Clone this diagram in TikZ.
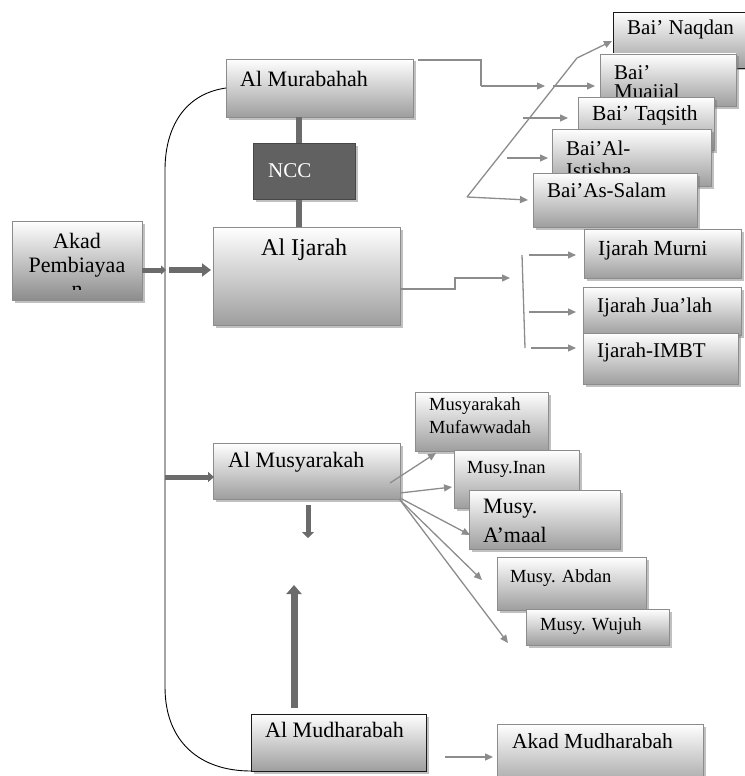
\documentclass[tikz,border=0pt]{standalone}
\usepackage{fontspec}
\setmainfont{Liberation Serif}
\usetikzlibrary{arrows.meta,shadows}
\begin{document}
\begin{tikzpicture}[x=1pt,y=-1pt,
  bx/.style={draw=black!45, line width=0.8pt, shading=axis, top color=white, middle color=black!12, bottom color=black!38,
    drop shadow={shadow xshift=2.5pt,shadow yshift=-2.5pt,fill=black!55,opacity=0.45},
    anchor=north west, inner sep=0pt, outer sep=0pt},
  bxk/.style={bx, draw=black!90},
  tx/.style={anchor=base west, inner sep=0pt, text=black, font=\fontsize{#1}{#1}\selectfont},
  tx/.default=22,
  ml/.style={anchor=north west, align=left, inner sep=0pt, text=black},
  ln/.style={draw=black!45, line width=1.3pt},
  con/.style={ln, -{Triangle[length=8pt,width=7pt]}},
  thk/.style={draw=black!58, line width=5pt},
  thka/.style={thk, -{Triangle[length=9pt,width=13pt]}},
]
\useasboundingbox (0,0) rectangle (744,776);

% main bracket curve
\node[bx, minimum width=187pt, minimum height=58pt] (mur) at (226,59) {};
\node[bxk, minimum width=175pt, minimum height=57pt] (mudh) at (251,714) {};
\draw[black, line width=0.9pt] (mur.west) .. controls (184,94) and (165,128) .. (165,170) -- (165,687)
  .. controls (165,742) and (200,771) .. (mudh.south west);
\node[tx] (murT) at (240,86) {Al Murabahah};
\node[tx] (mudhT) at (265,737) {Al Mudharabah};

% NCC and Ijarah
\coordinate (n1) at (299,117); \coordinate (n2) at (299,143);
\coordinate (n3) at (299,199); \coordinate (n4) at (299,227);
\draw[thk, line width=6pt] (n1) -- (n2);
\draw[thk, line width=6pt] (n3) -- (n4);
\node[fill=black!62, draw=black!72, line width=0.8pt, anchor=north west, inner sep=0pt,
  minimum width=102pt, minimum height=56pt,
  drop shadow={shadow xshift=2.5pt,shadow yshift=-2.5pt,fill=black!55,opacity=0.45}] (ncc) at (253,143) {};
\node[tx=21, text=white] (nccT) at (268,177) {NCC};
\node[bx, minimum width=187pt, minimum height=98pt] (ija) at (213,227) {};
\node[tx=24] (ijaT) at (261,255) {Al Ijarah};

% Akad Pembiayaan
\node[bx, bottom color=black!45, minimum width=130pt, minimum height=79pt] (akad) at (12,221) {};
\begin{scope}
\clip (12,221) rectangle (142,289);
\node[anchor=north, align=center, inner sep=0pt, text=black, font=\fontsize{22}{24}\selectfont] (akadT) at (77,233) {Akad\\Pembiayaa\\n};
\end{scope}
\coordinate (a1) at (142,270); \coordinate (a2) at (166,270);
\coordinate (a3) at (169,270); \coordinate (a4) at (211,270);
\draw[thk, -{Triangle[length=5pt,width=9pt]}] (a1) -- (a2);
\draw[thka, line width=6pt] (a3) -- (a4);

% Bai' boxes
\node[bxk, minimum width=140pt, minimum height=56pt] (naq) at (613,12) {};
\node[tx=21] (naqT) at (627,35) {Bai’ Naqdan};
\node[bx, minimum width=136pt, minimum height=52pt] (mua) at (600,54) {};
\node[ml, font=\fontsize{21}{19.5}\selectfont] (muaT) at (614,65) {Bai’\\Muajjal};
\node[bx, minimum width=136pt, minimum height=53pt] (taq) at (578,97) {};
\node[tx=21.5] (taqT) at (592,120) {Bai’ Taqsith};
\node[bx, minimum width=159pt, minimum height=57pt] (ist) at (552,129) {};
\node[ml, font=\fontsize{21}{22}\selectfont] (istT) at (566,141) {Bai’Al-\\Istishna};
\node[bx, minimum width=164pt, minimum height=54pt] (sal) at (533,173) {};
\node[tx=21] (salT) at (547,197) {Bai’As-Salam};

% Murabahah connectors
\coordinate (mA) at (418,60); \coordinate (mB) at (481,60); \coordinate (mC) at (481,86);
\coordinate (mD) at (545,86); \coordinate (mE) at (553,86); \coordinate (mF) at (595,86);
\draw[ln] (mA) -- (mB) -- (mC);
\draw[con] (mC) -- (mD);
\draw[con] (mE) -- (mF);
\coordinate (dA) at (467,197); \coordinate (dB) at (577,58); \coordinate (dC) at (612,41);
\coordinate (dD) at (528,200);
\draw[con] (dA) -- (dB) -- (dC);
\draw[con] (dA) -- (dD);
\coordinate (tA) at (523,118); \coordinate (tB) at (568,118);
\draw[con] (tA) -- (tB);
\coordinate (iA) at (507,158); \coordinate (iB) at (548,158);
\draw[con] (iA) -- (iB);

% Ijarah boxes
\node[bx, minimum width=157pt, minimum height=49pt] (mrn) at (584,229) {};
\node[tx=21.5] (mrnT) at (598,255) {Ijarah Murni};
\node[bx, minimum width=158pt, minimum height=48pt] (jua) at (583,287) {};
\node[tx=21] (juaT) at (597,312) {Ijarah Jua’lah};
\node[bx, minimum width=155pt, minimum height=51pt] (imbt) at (583,333) {};
\node[tx=21] (imbtT) at (597,357) {Ijarah-IMBT};

\coordinate (jA) at (400,289); \coordinate (jB) at (455,289); \coordinate (jC) at (455,278);
\coordinate (jD) at (510,278);
\draw[con] (jA) -- (jB) -- (jC) -- (jD);
\coordinate (vA) at (522,255); \coordinate (vB) at (525,348);
\draw[ln] (vA) -- (vB);
\coordinate (k1) at (529,255); \coordinate (k2) at (576,255);
\coordinate (k3) at (529,312); \coordinate (k4) at (576,312);
\coordinate (k5) at (531,348); \coordinate (k6) at (576,348);
\draw[con] (k1) -- (k2);
\draw[con] (k3) -- (k4);
\draw[con] (k5) -- (k6);

% Musyarakah
\node[bx, minimum width=187pt, minimum height=56pt] (musy) at (213,443) {};
\node[tx] (musyT) at (228,467) {Al Musyarakah};
\coordinate (s1) at (165,477); \coordinate (s2) at (214,477);
\draw[thk, -{Triangle[length=6pt,width=10pt]}] (s1) -- (s2);
\coordinate (s3) at (308,505); \coordinate (s4) at (308,538);
\draw[thk, -{Triangle[length=6pt,width=12pt]}] (s3) -- (s4);

\node[bx, minimum width=133pt, minimum height=59pt] (mufa) at (415,392) {};
\node[ml, font=\fontsize{18.5}{23}\selectfont] (mufaT) at (429,397) {Musyarakah\\Mufawwadah};
\node[bx, minimum width=125pt, minimum height=58pt] (inan) at (454,450) {};
\node[tx=18.5] (inanT) at (467,473) {Musy.Inan};
\node[bx, minimum width=151pt, minimum height=59pt] (amaal) at (469,490) {};
\node[ml, font=\fontsize{22}{29}\selectfont] (amaalT) at (483,498.5) {Musy.\\A’maal};
\node[bx, minimum width=149pt, minimum height=53pt] (abdan) at (497,557) {};
\node[tx=18.5] (abdanT) at (510,582) {Musy. Abdan};
\node[bx, minimum width=143pt, minimum height=36pt] (wujuh) at (526,609) {};
\node[tx=18.5] (wujuhT) at (540,630) {Musy. Wujuh};

\coordinate (r1) at (390,483); \coordinate (r1e) at (436,453);
\coordinate (r2) at (400,493); \coordinate (r2e) at (452,487);
\coordinate (r3) at (400,498); \coordinate (r3e) at (470,535);
\coordinate (r4) at (400,500); \coordinate (r4e) at (482,580);
\coordinate (r5e) at (508,643);
\draw[con] (r1) -- (r1e);
\draw[con] (r2) -- (r2e);
\draw[con] (r3) -- (r3e);
\draw[con] (r4) -- (r4e);
\draw[con] (r4) -- (r5e);

% Mudharabah
\coordinate (u1) at (294,708); \coordinate (u2) at (294,585);
\draw[thk, line width=7pt, -{Triangle[length=9pt,width=15pt]}] (u1) -- (u2);
\node[bx, minimum width=206pt, minimum height=66pt] (akmu) at (497,724) {};
\node[tx=21.5] (akmuT) at (512,748) {Akad Mudharabah};
\coordinate (w1) at (445,757); \coordinate (w2) at (493,757);
\draw[con] (w1) -- (w2);
\end{tikzpicture}
\end{document}
